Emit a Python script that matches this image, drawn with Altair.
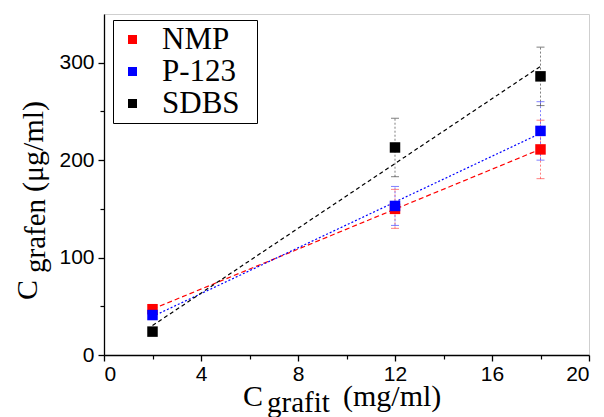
import altair as alt
import pandas as pd

# ---- data ----
series_names = ["NMP", "P-123", "SDBS"]
series_colors = ["#ff0000", "#0000ff", "#000000"]
x_vals = [2, 12, 18]
nmp_vals = [47, 150, 211]
nmp_err = [2, 20, 30]
p123_vals = [41, 153, 230]
p123_err = [2, 20, 30]
sdbs_vals = [24, 213, 286]
sdbs_err = [2, 30, 30]

x_major = [0, 4, 8, 12, 16, 20]
x_minor = [2, 6, 10, 14, 18]
y_major = [0, 100, 200, 300]
y_minor = [50, 150, 250]

SERIF = "Times New Roman"
SANS = "Arial"

rows = []
for name, vals, errs in [("NMP", nmp_vals, nmp_err),
                         ("P-123", p123_vals, p123_err),
                         ("SDBS", sdbs_vals, sdbs_err)]:
    for xv, yv, ev in zip(x_vals, vals, errs):
        rows.append({"x": xv, "y": yv, "lo": yv - ev, "hi": yv + ev,
                     "series": name, "legend_series": name})
df = pd.DataFrame(rows)

xscale = alt.Scale(domain=[0, 20], nice=False)
yscale = alt.Scale(domain=[0, 350], nice=False)

ax_common = dict(grid=False, title=None, domainColor="black", domainWidth=1.3,
                 tickColor="black", tickWidth=1.3, labelFont=SANS,
                 labelFontSize=21, labelColor="black")

x_main = alt.X("x:Q", scale=xscale,
               axis=alt.Axis(values=x_major, orient="bottom", tickSize=6, labelPadding=2, **ax_common))
y_main = alt.Y("y:Q", scale=yscale,
               axis=alt.Axis(values=y_major, orient="left", tickSize=6, labelPadding=4, **ax_common))

# data-derived (alphabetical) domain: NMP, P-123, SDBS
color_enc = alt.Color("series:N", scale=alt.Scale(range=series_colors), legend=None)

base = alt.Chart(df)

fits = base.transform_regression("x", "y", groupby=["series"]).mark_line(strokeWidth=1.2).encode(
    x=x_main, y=y_main, color=color_enc,
    strokeDash=alt.StrokeDash("series:N", scale=alt.Scale(range=[[5, 3], [2, 2], [4, 3]]), legend=None),
)

err_rules = base.mark_rule(strokeDash=[2, 2], strokeWidth=1, opacity=0.5).encode(
    x="x:Q", y="lo:Q", y2="hi:Q", color=color_enc)
cap_lo = base.mark_tick(orient="horizontal", size=8, thickness=1, opacity=0.5).encode(
    x="x:Q", y="lo:Q", color=color_enc)
cap_hi = base.mark_tick(orient="horizontal", size=8, thickness=1, opacity=0.5).encode(
    x="x:Q", y="hi:Q", color=color_enc)

points = base.mark_square(filled=True, size=110, opacity=1).encode(
    x="x:Q", y="y:Q",
    fill=alt.Fill("legend_series:N", scale=alt.Scale(domain=series_names, range=series_colors),
                  legend=alt.Legend(title=".", titleOrient="right", titleColor="white",
                                    titleFontSize=2, titlePadding=12,
                                    orient="none", legendX=9, legendY=6,
                                    fillColor="white", strokeColor="black", padding=4,
                                    symbolType="square", symbolSize=81, symbolOffset=0,
                                    symbolStrokeWidth=0, labelOffset=14,
                                    labelFont=SERIF, labelFontSize=31,
                                    labelColor="black", rowPadding=0)),
)

main = alt.layer(fits, err_rules, cap_lo, cap_hi, points)

minor = base.mark_point(opacity=0).encode(
    x=alt.X("x:Q", scale=xscale, axis=alt.Axis(values=x_minor, orient="bottom", labels=False,
            domain=False, grid=False, title=None, tickSize=4, tickColor="black", tickWidth=1.2)),
    y=alt.Y("y:Q", scale=yscale, axis=alt.Axis(values=y_minor, orient="left", labels=False,
            domain=False, grid=False, title=None, tickSize=4, tickColor="black", tickWidth=1.2)),
)

def txt(s, x, y, size, angle=0):
    return alt.Chart(pd.DataFrame({"t": [s]})).mark_text(
        align="left", baseline="alphabetic", font=SERIF,
        fontSize=size, angle=angle, color="black").encode(
        text="t:N", x=alt.value(x), y=alt.value(y))

titles = [
    txt("C", 139, 392, 30),
    txt("grafit", 163, 398, 29),
    txt("(mg/ml)", 239, 392, 30),
    txt("C", -67, 286, 30, 270),
    txt("grafen", -59, 259, 29, 270),
    txt("(μg/ml)", -61, 178, 30, 270),
]

chart = alt.layer(minor, main, *titles).resolve_axis(x="independent", y="independent").properties(
    width=485, height=341,
    padding={"left": 104, "top": 14, "right": 15, "bottom": 62},
    autosize="none",
    background="white",
).configure_view(stroke="#cfcfcf", strokeWidth=1)

chart.save("out.html", embed_options={"renderer": "svg", "actions": False})
